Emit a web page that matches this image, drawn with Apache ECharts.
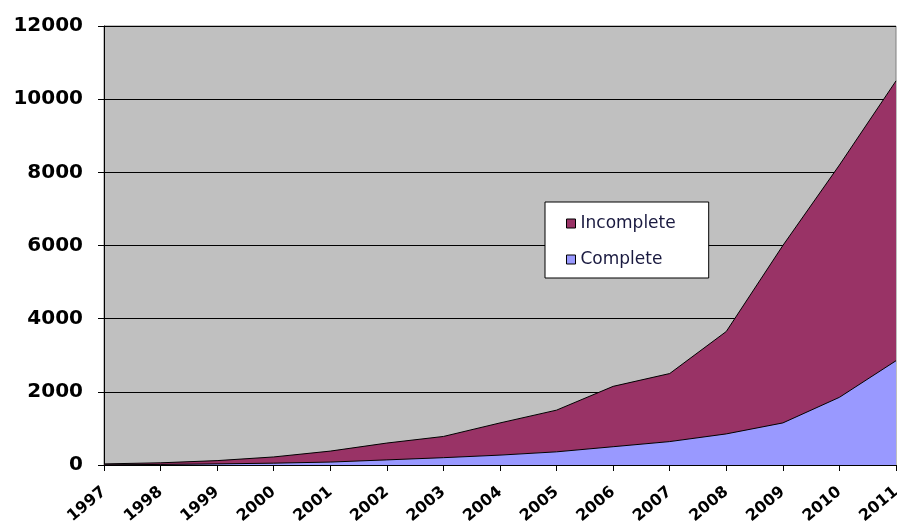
<!DOCTYPE html>
<html>
<head>
<meta charset="utf-8">
<script src="https://cdn.jsdelivr.net/npm/echarts@6/dist/echarts.min.js"></script>
<style>
  html, body { margin: 0; padding: 0; background: #fff; }
  #main { width: 897px; height: 525px; }
</style>
</head>
<body>
<div id="main"></div>
<script>
const years = ['1997', '1998', '1999', '2000', '2001', '2002', '2003', '2004',
  '2005', '2006', '2007', '2008', '2009', '2010', '2011']
const complete = [5, 15, 30, 50, 80, 140, 200, 270, 360, 500, 640, 850, 1150, 1850, 2850]
const incomplete = [25, 45, 90, 170, 300, 460, 580, 880, 1140, 1650, 1860, 2800, 4850, 6350, 7650]
const yTicks = [0, 2000, 4000, 6000, 8000, 10000, 12000]

const chart = echarts.init(document.getElementById('main'))

const areaSeries = (name, data, color) => ({
  name,
  type: 'line',
  stack: 'total',
  data,
  symbol: 'none',
  smooth: false,
  lineStyle: { color: '#000', width: 1 },
  itemStyle: { color },
  areaStyle: { color, opacity: 1 },
  emphasis: { disabled: true }
})

chart.setOption({
  animation: false,
  textStyle: { fontFamily: 'DejaVu Sans, sans-serif' },
  grid: {
    left: 104, right: 1, top: 26, bottom: 60,
    outerBoundsMode: 'none',
    containLabel: false,
    show: true,
    backgroundColor: '#C0C0C0',
    borderColor: '#808080',
    borderWidth: 1
  },
  legend: {
    data: ['Incomplete', 'Complete'],
    orient: 'vertical',
    left: 545,
    top: 202,
    width: 163,
    padding: [13, 33, 10, 21],
    itemGap: 19,
    itemWidth: 9,
    itemHeight: 9,
    itemStyle: { borderColor: '#000', borderWidth: 1 },
    icon: 'rect',
    backgroundColor: '#fff',
    borderColor: '#000',
    borderWidth: 1,
    textStyle: { fontSize: 17, color: '#1a1a40' }
  },
  xAxis: {
    type: 'category',
    data: years,
    boundaryGap: false,
    axisLine: { lineStyle: { color: '#000', width: 1 } },
    axisTick: { show: true, length: 6, alignWithLabel: true, lineStyle: { color: '#000' } },
    axisLabel: {
      interval: 0,
      rotate: 40,
      margin: 25,
      fontSize: 16,
      fontWeight: 'bold',
      color: '#000'
    },
    splitLine: { show: false }
  },
  yAxis: {
    type: 'value',
    min: yTicks[0],
    max: yTicks[yTicks.length - 1],
    interval: 2000,
    axisLine: { show: true, lineStyle: { color: '#000', width: 1 } },
    axisTick: { show: true, length: 6, lineStyle: { color: '#000' } },
    axisLabel: {
      margin: 21,
      fontSize: 20,
      fontWeight: 'bold',
      color: '#000',
      formatter: v => String(v)
    },
    splitLine: { show: true, lineStyle: { color: '#000', width: 1 } }
  },
  series: [
    areaSeries('Complete', complete, '#9999FF'),
    areaSeries('Incomplete', incomplete, '#993366')
  ]
})
</script>
</body>
</html>
